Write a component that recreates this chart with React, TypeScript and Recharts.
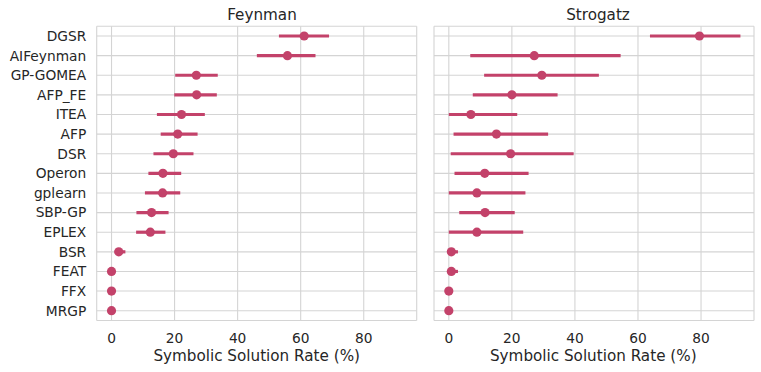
import React from 'react';
import { ScatterChart, Scatter, XAxis, YAxis, CartesianGrid, ErrorBar } from 'recharts';

const methods = ['DGSR', 'AIFeynman', 'GP-GOMEA', 'AFP_FE', 'ITEA', 'AFP', 'DSR', 'Operon', 'gplearn', 'SBP-GP', 'EPLEX', 'BSR', 'FEAT', 'FFX', 'MRGP'];

const feynmanRate = [61.1, 55.8, 26.9, 27.0, 22.2, 21.0, 19.6, 16.3, 16.2, 12.7, 12.3, 2.3, 0, 0, 0];
const feynmanLow = [53.1, 46.1, 20.2, 19.9, 14.4, 15.6, 13.3, 11.7, 10.6, 7.9, 7.8, 1.0, 0, 0, 0];
const feynmanHigh = [69.0, 64.7, 33.7, 33.4, 29.6, 27.3, 26.0, 22.1, 21.8, 18.1, 17.1, 4.4, 0, 0, 0];

const strogatzRate = [79.5, 27.1, 29.5, 20.0, 7.0, 15.1, 19.6, 11.4, 8.9, 11.5, 8.9, 0.8, 0.8, 0, 0];
const strogatzLow = [63.8, 6.8, 11.2, 7.6, 0, 1.5, 0.6, 1.8, 0, 3.3, 0, 0, 0, 0, 0];
const strogatzHigh = [92.5, 54.5, 47.6, 34.5, 21.7, 31.5, 39.6, 25.3, 24.3, 20.9, 23.6, 2.9, 2.9, 0, 0];

const xTicks = [0, 20, 40, 60, 80];

const COLOR = '#c3426a';
const TEXT = '#262626';
const FONT = '"DejaVu Sans", sans-serif';

const buildRows = (rate: number[], low: number[], high: number[]) =>
  methods.map((name, i) => ({
    idx: i,
    name,
    rate: rate[i],
    err: [rate[i] - low[i], high[i] - rate[i]],
  }));

const Dot = (props: any) => <circle cx={props.cx} cy={props.cy} r={4.6} fill={COLOR} />;

interface PanelProps {
  rows: ReturnType<typeof buildRows>;
  showLabels: boolean;
  left: number;
  width: number;
  marginLeft: number;
  marginRight: number;
}

const Panel: React.FC<PanelProps> = ({ rows, showLabels, left, width, marginLeft, marginRight }) => (
  <div style={{ position: 'absolute', left, top: 0 }}>
    <ScatterChart width={width} height={372} margin={{ top: 26.2, right: marginRight, left: marginLeft, bottom: 0 }}>
      <CartesianGrid stroke="#d4d4d4" strokeWidth={1.1} />
      <XAxis
        type="number"
        dataKey="rate"
        domain={[-4.7, 96.8]}
        ticks={xTicks}
        allowDataOverflow
        axisLine={false}
        tickLine={false}
        tickMargin={7}
        height={51.5}
        tick={{ fill: TEXT, fontSize: 13.75, fontFamily: FONT }}
      />
      <YAxis
        type="number"
        dataKey="idx"
        domain={[-0.5, methods.length - 0.5]}
        ticks={methods.map((_, i) => i)}
        tickFormatter={(v: number) => methods[v]}
        reversed
        interval={0}
        hide={!showLabels}
        width={showLabels ? 96.7 : 0}
        axisLine={false}
        tickLine={false}
        tickMargin={4.5}
        tick={{ fill: TEXT, fontSize: 13.75, fontFamily: FONT }}
      />
      <Scatter data={rows} shape={Dot} isAnimationActive={false}>
        <ErrorBar dataKey="err" direction="x" width={0} stroke={COLOR} strokeWidth={3.2} />
      </Scatter>
    </ScatterChart>
  </div>
);

export default function App() {
  const feynmanRows = buildRows(feynmanRate, feynmanLow, feynmanHigh);
  const strogatzRows = buildRows(strogatzRate, strogatzLow, strogatzHigh);
  return (
    <div style={{ position: 'absolute', left: 0, top: 0, width: 761, height: 372, background: '#fff' }}>
      <Panel rows={feynmanRows} showLabels left={0} width={420} marginLeft={0} marginRight={3.3} />
      <Panel rows={strogatzRows} showLabels={false} left={420} width={341} marginLeft={14} marginRight={7} />
      <svg width={761} height={372} style={{ position: 'absolute', left: 0, top: 0, pointerEvents: 'none' }}>
        <g fill={TEXT} fontFamily={FONT} fontSize={15.2} textAnchor="middle">
          <text x={262} y={20}>Feynman</text>
          <text x={598} y={20}>Strogatz</text>
          <text x={256.7} y={361}>Symbolic Solution Rate (%)</text>
          <text x={593.3} y={361}>Symbolic Solution Rate (%)</text>
        </g>
      </svg>
    </div>
  );
}
